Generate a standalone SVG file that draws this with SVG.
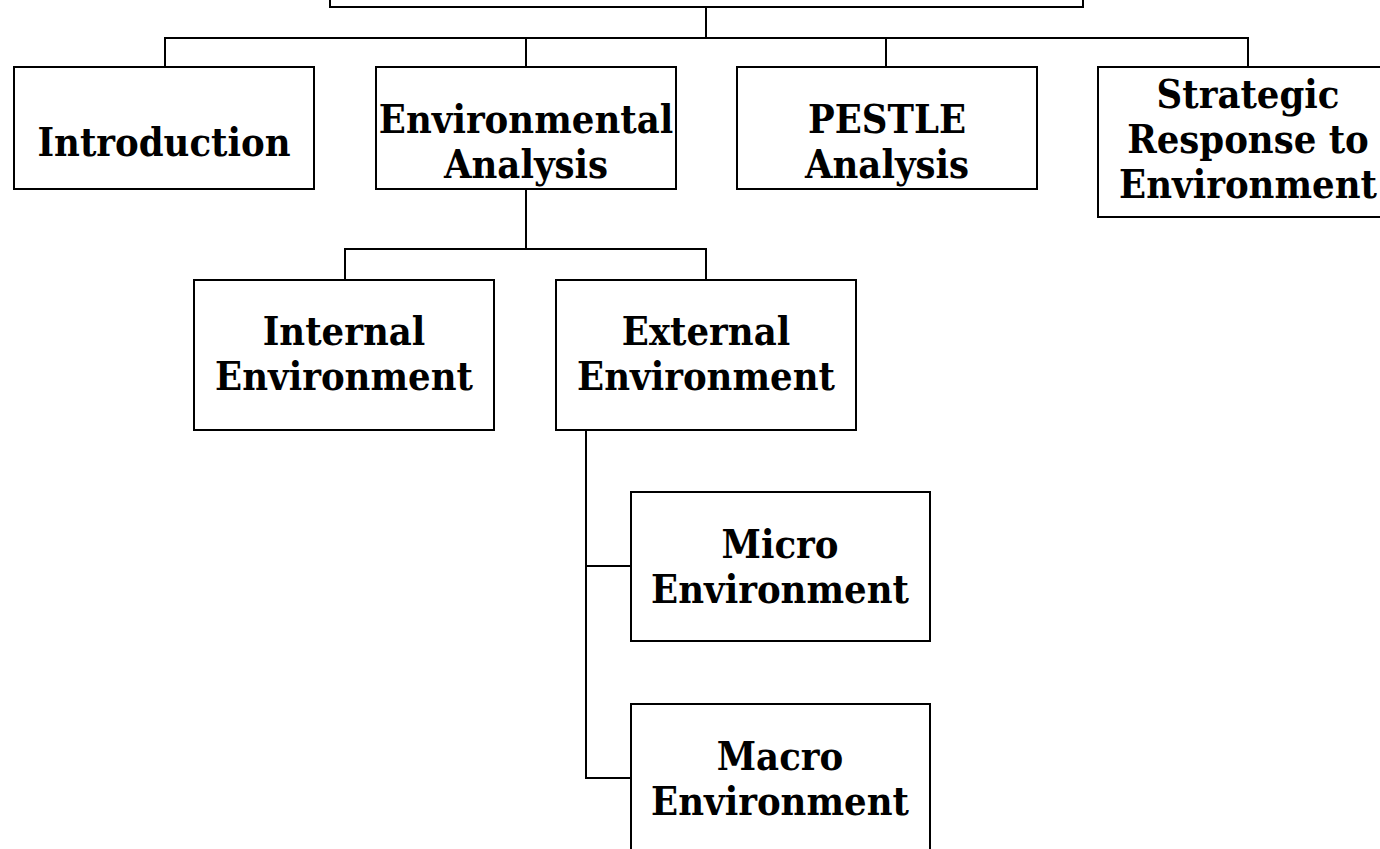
<svg xmlns="http://www.w3.org/2000/svg" width="1380" height="849" viewBox="0 0 1380 849">
<style>
.box{fill:#fff;stroke:#000;stroke-width:2}
.ln{fill:none;stroke:#000;stroke-width:2}
.t{font-family:"DejaVu Serif Condensed","DejaVu Serif",serif;font-weight:bold;font-size:39.5px;fill:#000;text-anchor:middle}
</style>
<rect width="1380" height="849" fill="#fff"/>
<g id="connectors">
<path class="ln" d="M706 7V38M165 67V38H1248V67M526 38V67M886 38V67"/>
<path class="ln" d="M526 189V249M345 280V249H706V280"/>
<path class="ln" d="M586 430V778H631M586 566H631"/>
</g>
<g id="root"><rect class="box" x="330" y="-50" width="753" height="57"/></g>
<g id="introduction"><rect class="box" x="14" y="67" width="300" height="122"/><text class="t" x="164" y="156">Introduction</text></g>
<g id="environmental-analysis"><rect class="box" x="376" y="67" width="300" height="122"/><text class="t" x="526" y="133">Environmental</text><text class="t" x="526" y="178">Analysis</text></g>
<g id="pestle"><rect class="box" x="737" y="67" width="300" height="122"/><text class="t" x="887" y="133">PESTLE</text><text class="t" x="887" y="178">Analysis</text></g>
<g id="strategic"><rect class="box" x="1098" y="67" width="300" height="150"/><text class="t" x="1248" y="108">Strategic</text><text class="t" x="1248" y="153">Response to</text><text class="t" x="1248" y="198">Environment</text></g>
<g id="internal"><rect class="box" x="194" y="280" width="300" height="150"/><text class="t" x="344" y="345">Internal</text><text class="t" x="344" y="390">Environment</text></g>
<g id="external"><rect class="box" x="556" y="280" width="300" height="150"/><text class="t" x="706" y="345">External</text><text class="t" x="706" y="390">Environment</text></g>
<g id="micro"><rect class="box" x="631" y="492" width="299" height="149"/><text class="t" x="780" y="558">Micro</text><text class="t" x="780" y="603">Environment</text></g>
<g id="macro"><rect class="box" x="631" y="704" width="299" height="180"/><text class="t" x="780" y="770">Macro</text><text class="t" x="780" y="815">Environment</text></g>
</svg>
